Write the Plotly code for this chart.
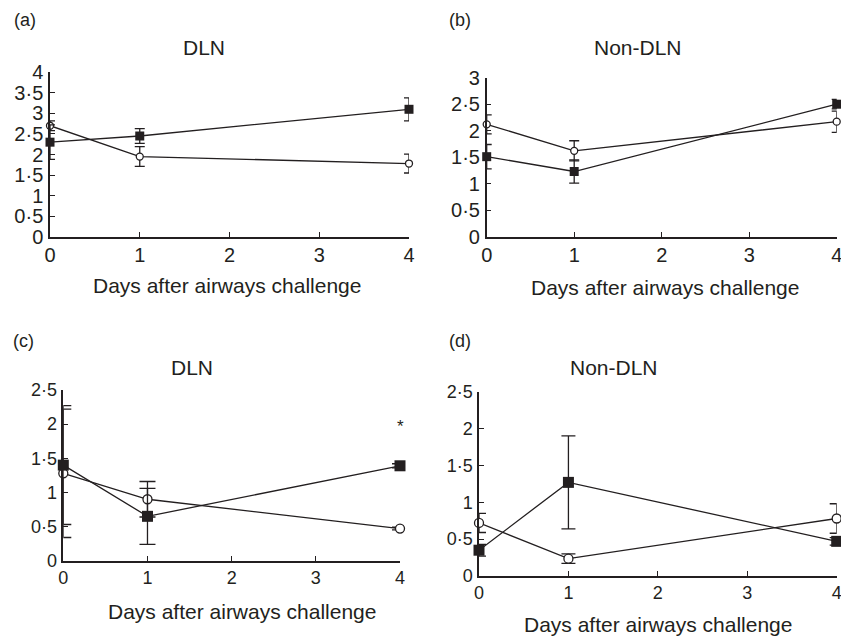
import plotly.graph_objects as go

# the page body adds an 8px margin, so the figure is drawn 8px in from the top-left
OFF = 8
W, H = 849 - OFF, 638 - OFF
INK = "#231f20"
FONT = "Liberation Sans, Arial, Helvetica, sans-serif"

# ---------------- data ----------------
days = [0, 1, 4]
x_ticks = [0, 1, 2, 3, 4]
x_ticktext = ["0", "1", "2", "3", "4"]

# panel (a) DLN
a_filled = [2.30, 2.45, 3.10]
a_filled_err = [0.42, 0.18, 0.28]
a_open = [2.70, 1.95, 1.78]
a_open_err = [0.12, 0.24, 0.23]
a_yticks = [0, 0.5, 1, 1.5, 2, 2.5, 3, 3.5, 4]
a_yticktext = ["0", "0·5", "1", "1·5", "2", "2·5", "3", "3·5", "4"]

# panel (b) Non-DLN
b_filled = [1.51, 1.23, 2.50]
b_filled_err = [0.23, 0.22, 0.09]
b_open = [2.12, 1.62, 2.17]
b_open_err = [0.18, 0.19, 0.20]
b_yticks = [0, 0.5, 1, 1.5, 2, 2.5, 3]
b_yticktext = ["0", "0·5", "1", "1·5", "2", "2·5", "3"]

# panel (c) DLN
c_filled = [1.40, 0.65, 1.39]
c_filled_err = [0.87, 0.41, 0.03]
c_open = [1.28, 0.90, 0.47]
c_open_err = [0.94, 0.26, 0.02]
cd_yticks = [0, 0.5, 1, 1.5, 2, 2.5]
cd_yticktext = ["0", "0·5", "1", "1·5", "2", "2·5"]

# panel (d) Non-DLN
d_filled = [0.35, 1.27, 0.47]
d_filled_err = [0.08, 0.63, 0.05]
d_open = [0.72, 0.235, 0.78]
d_open_err = [0.13, 0.065, 0.20]

panel_labels = ["(a)", "(b)", "(c)", "(d)"]
panel_titles = ["DLN", "Non-DLN", "DLN", "Non-DLN"]
x_title = "Days after airways challenge"

# ---------------- layout helpers (page pixels -> paper) ----------------
def px(x):
    return (x - OFF) / W

def py(y):
    return 1 - (y - OFF) / H

panels = [
    dict(x0=50, x1=409, yb=236.7, yt=72.3, ymax=4, yt_v=a_yticks, yt_t=a_yticktext,
         f=a_filled, fe=a_filled_err, o=a_open, oe=a_open_err, tf=20, msq=9, mci=7, cap=5),
    dict(x0=486.7, x1=836.7, yb=236.7, yt=77.7, ymax=3, yt_v=b_yticks, yt_t=b_yticktext,
         f=b_filled, fe=b_filled_err, o=b_open, oe=b_open_err, tf=20, msq=9, mci=7, cap=5),
    dict(x0=63.3, x1=400, yb=560.7, yt=390, ymax=2.5, yt_v=cd_yticks, yt_t=cd_yticktext,
         f=c_filled, fe=c_filled_err, o=c_open, oe=c_open_err, tf=18, msq=11, mci=9, cap=8),
    dict(x0=479, x1=836.7, yb=576, yt=391.7, ymax=2.5, yt_v=cd_yticks, yt_t=cd_yticktext,
         f=d_filled, fe=d_filled_err, o=d_open, oe=d_open_err, tf=18, msq=11, mci=9, cap=7),
]

fig = go.Figure()
annotations = []

# (x, y, yanchor)
label_pos = [(25, 8, "top"), (460, 8, "top"), (24, 341, "middle"), (460, 341, "middle")]
title_pos = [(204, 47), (638, 47), (192, 367), (614, 367)]
xtitle_pos = [(227, 285), (665, 287), (242, 611), (658, 624)]

for i, p in enumerate(panels):
    n = "" if i == 0 else str(i + 1)
    xa, ya = "x" + n, "y" + n
    # open circles
    fig.add_trace(go.Scatter(
        x=days, y=p["o"], xaxis=xa, yaxis=ya, mode="lines+markers",
        line=dict(color=INK, width=1.3),
        marker=dict(symbol="circle", size=p["mci"], color="white",
                    line=dict(color=INK, width=1.3)),
        error_y=dict(type="data", array=p["oe"], visible=True, color=INK,
                     thickness=1.3, width=p["cap"]),
        cliponaxis=False, showlegend=False, hoverinfo="x+y"))
    # filled squares
    fig.add_trace(go.Scatter(
        x=days, y=p["f"], xaxis=xa, yaxis=ya, mode="lines+markers",
        line=dict(color=INK, width=1.3),
        marker=dict(symbol="square", size=p["msq"], color=INK,
                    line=dict(color=INK, width=0)),
        error_y=dict(type="data", array=p["fe"], visible=True, color=INK,
                     thickness=1.3, width=p["cap"]),
        cliponaxis=False, showlegend=False, hoverinfo="x+y"))

    axis_common = dict(showline=True, linecolor=INK, linewidth=1.5,
                       ticks="inside", ticklen=5, tickwidth=1.3, tickcolor=INK,
                       showgrid=False, zeroline=False, automargin=False,
                       tickfont=dict(family=FONT, size=p["tf"], color=INK))
    fig.update_layout(**{
        ("xaxis" + n): dict(domain=[px(p["x0"]), px(p["x1"])], range=[0, 4],
                            anchor=ya, tickmode="array", tickvals=x_ticks,
                            ticktext=x_ticktext, **axis_common),
        ("yaxis" + n): dict(domain=[py(p["yb"]), py(p["yt"])], range=[0, p["ymax"]],
                            anchor=xa, tickmode="array", tickvals=p["yt_v"],
                            ticktext=p["yt_t"], ticklabelstandoff=1, **axis_common),
    })

    lx, ly, lanc = label_pos[i]
    annotations.append(dict(text=panel_labels[i], x=px(lx), y=py(ly), xref="paper", yref="paper",
                            showarrow=False, xanchor="center", yanchor=lanc,
                            font=dict(family=FONT, size=18, color=INK)))
    tx, ty = title_pos[i]
    annotations.append(dict(text=panel_titles[i], x=px(tx), y=py(ty), xref="paper", yref="paper",
                            showarrow=False, xanchor="center", yanchor="middle",
                            font=dict(family=FONT, size=21, color=INK)))
    ax_, ay_ = xtitle_pos[i]
    annotations.append(dict(text=x_title, x=px(ax_), y=py(ay_), xref="paper", yref="paper",
                            showarrow=False, xanchor="center", yanchor="middle",
                            font=dict(family=FONT, size=21, color=INK)))

# significance asterisks
annotations.append(dict(text="*", x=4, y=4.22, xref="x", yref="y", showarrow=False,
                        xanchor="center", yanchor="middle", font=dict(family=FONT, size=17, color=INK)))
annotations.append(dict(text="*", x=4, y=1.97, xref="x3", yref="y3", showarrow=False,
                        xanchor="center", yanchor="middle", font=dict(family=FONT, size=17, color=INK)))

fig.update_layout(
    template="none",
    width=W, height=H, margin=dict(l=0, r=0, t=0, b=0, pad=0, autoexpand=False),
    paper_bgcolor="white", plot_bgcolor="white",
    annotations=annotations, font=dict(family=FONT, color=INK),
)

fig.write_html("out.html")
